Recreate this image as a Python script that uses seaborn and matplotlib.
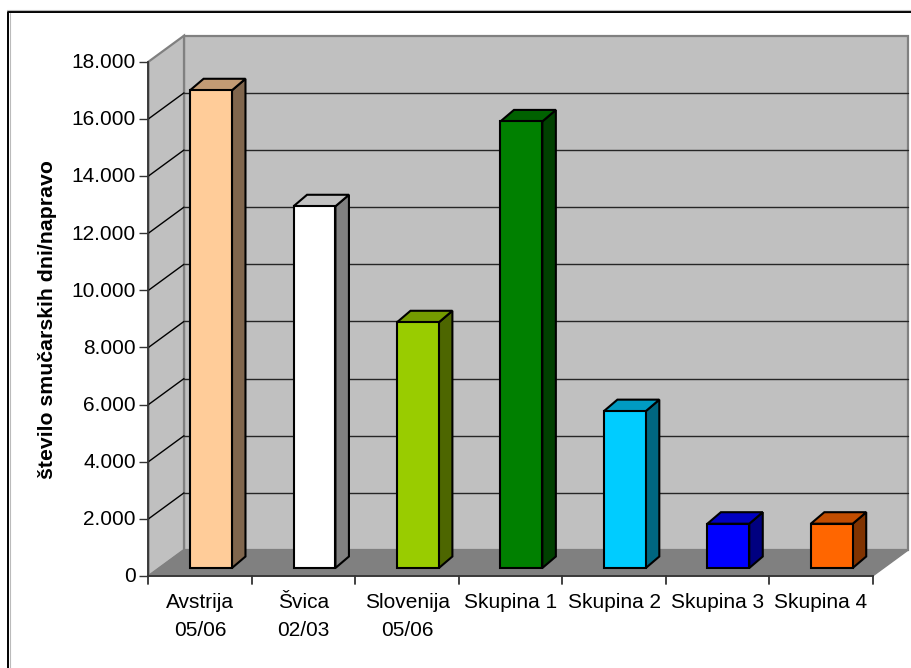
import matplotlib
matplotlib.use("Agg")
import matplotlib.pyplot as plt
from matplotlib.patches import Polygon
from matplotlib.lines import Line2D
from matplotlib.transforms import Affine2D, IdentityTransform
from matplotlib.ticker import FuncFormatter
import seaborn as sns
import pandas as pd

categories = ["Avstrija\n05/06", "Švica\n02/03", "Slovenija\n05/06", "Skupina 1", "Skupina 2", "Skupina 3", "Skupina 4"]
values = [16720, 12660, 8600, 15630, 5490, 1550, 1550]
face_colors = ["#FFCC99", "#FFFFFF", "#99CC00", "#008000", "#00CCFF", "#0000FF", "#FF6600"]
top_colors = ["#C29B74", "#C2C2C2", "#749B00", "#006100", "#009BC2", "#0000C2", "#C24D00"]
side_colors = ["#80664D", "#808080", "#4D6600", "#004000", "#006680", "#000080", "#803300"]
y_ticks = [0, 2000, 4000, 6000, 8000, 10000, 12000, 14000, 16000, 18000]
y_label = "število smučarskih dni/napravo"

W, H = 912, 668
plt.rcParams["font.family"] = ["Liberation Sans", "DejaVu Sans"]
sns.set_style("white")
plt.rcParams["font.family"] = ["Liberation Sans", "DejaVu Sans"]

fig = plt.figure(figsize=(W / 100, H / 100), dpi=100, facecolor="white")
ax_left, ax_right, ax_bottom, ax_top = 148.5, 872.7, H - 576.0, H - 61.7
ax = fig.add_axes([ax_left / W, ax_bottom / H, (ax_right - ax_left) / W, (ax_top - ax_bottom) / H])
ax.patch.set_visible(False)

df = pd.DataFrame({"cat": categories, "val": values})
sns.barplot(data=df, x="cat", y="val", hue="cat", palette=face_colors, legend=False,
            width=0.405, saturation=1, edgecolor="black", linewidth=1.5, ax=ax, zorder=3)
ax.set_xlim(-0.5, len(categories) - 0.5)
ax.set_ylim(0, y_ticks[-1])

# depth of the box (walls) and of the bars, in pixels
WALL_DX, WALL_DY = 35.5, 26.0
BAR_SHIFT_X, BAR_SHIFT_Y = 10.8, 8.0
BAR_DX, BAR_DY = 13.5, 11.5
to_px = ax.transData.transform
ident = IdentityTransform()


def poly(pts, fc, ec, lw, z):
    ax.add_patch(Polygon(pts, closed=True, facecolor=fc, edgecolor=ec, linewidth=lw,
                         transform=ident, clip_on=False, zorder=z, joinstyle="miter"))


def seg(pts, color, lw, z):
    xs, ys = zip(*pts)
    ax.add_line(Line2D(xs, ys, color=color, linewidth=lw, transform=ident, clip_on=False, zorder=z))


bars = [p for p in ax.patches if p.get_zorder() == 3]

x0, x1 = ax.get_xlim()
fl = to_px((x0, 0)); fr = to_px((x1, 0)); tl = to_px((x0, y_ticks[-1]))
off = (WALL_DX, WALL_DY)
bk = lambda p: (p[0] + off[0], p[1] + off[1])

poly([bk(fl), bk(fr), bk((fr[0], tl[1])), bk(tl)], "#C0C0C0", "#808080", 1.6, 0.2)   # back wall
poly([fl, bk(fl), bk(tl), tl], "#C0C0C0", "#808080", 1.6, 0.3)                       # side wall
poly([fl, fr, bk(fr), bk(fl)], "#808080", "#808080", 1.0, 0.4)                       # floor
for t in y_ticks[1:-1]:
    p = to_px((x0, t))
    seg([p, bk(p)], "black", 1.0, 0.5)
    seg([bk(p), (bk(p)[0] + (fr[0] - fl[0]), bk(p)[1])], "#262626", 1.0, 0.5)

# bars: front faces come from seaborn, shifted into the box; side and top from their geometry
shift = Affine2D().translate(BAR_SHIFT_X, BAR_SHIFT_Y)
for bar, top_c, side_c in zip(bars, top_colors, side_colors):
    bx0, bx1 = bar.get_x(), bar.get_x() + bar.get_width()
    h = bar.get_height()
    a = to_px((bx0, h)); b = to_px((bx1, h)); c = to_px((bx1, 0))
    a = (a[0] + BAR_SHIFT_X, a[1] + BAR_SHIFT_Y)
    b = (b[0] + BAR_SHIFT_X, b[1] + BAR_SHIFT_Y)
    c = (c[0] + BAR_SHIFT_X, c[1] + BAR_SHIFT_Y)
    poly([c, b, (b[0] + BAR_DX, b[1] + BAR_DY), (c[0] + BAR_DX, c[1] + BAR_DY)], side_c, "black", 1.5, 2.8)
    poly([a, b, (b[0] + BAR_DX, b[1] + BAR_DY), (a[0] + BAR_DX, a[1] + BAR_DY)], top_c, "black", 1.5, 2.9)
    bar.set_transform(ax.transData + shift)
    bar.set_clip_on(False)

# axes
for s in ["top", "right"]:
    ax.spines[s].set_visible(False)
for s in ["left", "bottom"]:
    ax.spines[s].set_color("#333333")
    ax.spines[s].set_linewidth(1.3)
    ax.spines[s].set_zorder(1)
seg([fl, (fl[0], fl[1] - 8.0)], "#333333", 1.3, 1)
for i in range(len(categories)):
    p = to_px((i + 0.5, 0))
    seg([p, (p[0], p[1] - 8.0)], "#333333", 1.3, 1)

ax.set_yticks(y_ticks)
ax.yaxis.set_major_formatter(FuncFormatter(lambda v, _: f"{int(v):,}".replace(",", ".")))
ax.tick_params(axis="y", left=True, length=6.5, width=1.0, color="#333333", labelsize=15, pad=2.5, labelcolor="black")
ax.tick_params(axis="x", bottom=False, labelsize=15, pad=9, labelcolor="black")
ax.set_xlabel("")
ax.set_ylabel("")
for lab in ax.get_xticklabels():
    lab.set_linespacing(1.55)
for lab in ax.get_yticklabels():
    lab.set_transform(lab.get_transform() + Affine2D().translate(0, 1))
fig.text(48 / W, 1 - 320 / H, y_label, rotation=90, ha="center", va="center",
         fontsize=15.3, fontweight="bold", color="black")

# chart-area border: top and left only, with a grey shadow outside
fig.add_artist(Line2D([8.5 / W, 8.5 / W, 1], [0, 1 - 11.5 / H, 1 - 11.5 / H], color="black", linewidth=1.4, transform=fig.transFigure))
fig.add_artist(Line2D([10 / W, 10 / W], [0, 1 - 13 / H], color="#BBBBBB", linewidth=0.8, transform=fig.transFigure))
fig.add_artist(Line2D([7 / W, 1], [1 - 10 / H, 1 - 10 / H], color="#BBBBBB", linewidth=0.8, transform=fig.transFigure))

fig.savefig("out.png", dpi=100)
